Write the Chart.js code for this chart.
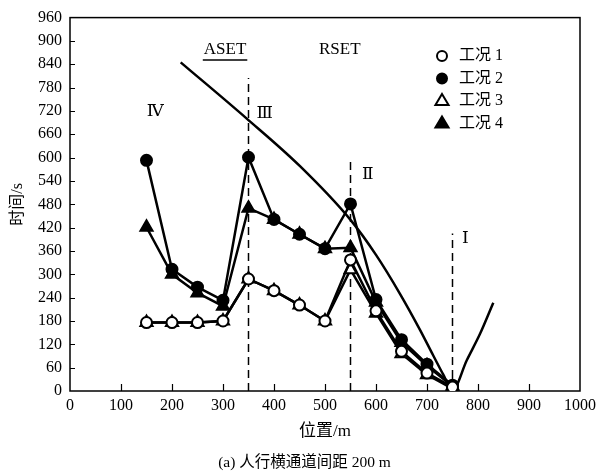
<!DOCTYPE html>
<html><head><meta charset="utf-8">
<script src="https://cdn.jsdelivr.net/npm/chart.js@4/dist/chart.umd.min.js"></script>
<style>html,body{margin:0;padding:0;background:#fff;}canvas{display:block;}</style>
</head><body>
<canvas id="c" width="609" height="476"></canvas>
<script>
// ---- data ----
const positions = [150, 200, 250, 300, 350, 400, 450, 500, 550, 600, 650, 700, 750];
const case1 = [176, 176, 176, 180, 288, 258, 221, 180, 337, 206, 102, 46, 10];
const case2 = [593, 313, 267, 233, 601, 441, 403, 366, 481, 235, 132, 69, 15];
const case3 = [176, 176, 176, 180, 288, 258, 221, 180, 312, 200, 96, 42, 6];
const case4 = [421, 300, 252, 218, 470, 441, 403, 366, 368, 228, 125, 65, 12];
const seriesLabels = ['工况 1', '工况 2', '工况 3', '工况 4'];

// RSET boundary curve
const rsetX = [217, 346, 451, 550, 600, 647, 686, 712, 732, 750, 778, 804, 830];
const rsetY = [845, 701, 578, 440, 350, 250, 158, 92, 42, 2, 79, 147, 227];

// dashed zone separators
const dashX = [350, 550, 750];
const dashTop = [805, 600, 405];

// text annotations (data coordinates)
const noteText = ['ASET', 'RSET', 'Ⅳ', 'Ⅲ', 'Ⅱ', 'Ⅰ'];
const noteX = [304, 529, 167, 382, 584, 775];
const noteY = [878, 878, 718, 713, 556, 391];

const xMin = 0, xMax = 1000, xStep = 100;
const yMin = 0, yMax = 960, yStep = 60;
const xTitle = '位置/m';
const yTitle = '时间/s';
const caption = '(a) 人行横通道间距 200 m';

const SERIF = "'Liberation Serif', 'Times New Roman', 'Noto Sans CJK SC', serif";
const ROMAN = "'Liberation Serif', 'DejaVu Serif', 'Noto Sans CJK SC', serif";

const pts = (xs, ys) => xs.map((x, i) => ({x: x, y: ys[i]}));

const caseStyles = [
  {pointStyle: 'circle', bg: '#fff', r: 5.5},
  {pointStyle: 'circle', bg: '#000', r: 5.5},
  {pointStyle: 'triangle', bg: '#fff', r: 7},
  {pointStyle: 'triangle', bg: '#000', r: 7}
];
const caseData = [case1, case2, case3, case4];

const datasets = [];
caseData.forEach((vals, i) => {
  const s = caseStyles[i];
  datasets.push({
    label: seriesLabels[i],
    data: pts(positions, vals),
    borderColor: '#000',
    borderWidth: 2.5,
    pointStyle: s.pointStyle,
    pointRadius: s.r,
    pointBackgroundColor: s.bg,
    pointBorderColor: '#000',
    pointBorderWidth: 2,
    tension: 0,
    order: [1, 3, 2, 4][i],
    isCase: true
  });
});
datasets.push({
  label: 'RSET',
  data: pts(rsetX, rsetY),
  borderColor: '#000',
  borderWidth: 2.5,
  pointRadius: 0,
  cubicInterpolationMode: 'monotone',
  order: 10
});
dashX.forEach((x, i) => {
  datasets.push({
    label: 'dash' + i,
    data: [{x: x, y: 0}, {x: x, y: dashTop[i]}],
    borderColor: '#000',
    borderWidth: 1.5,
    borderDash: [8, 5],
    pointRadius: 0,
    order: 11
  });
});

const decor = {
  id: 'decor',
  beforeDatasetsDraw(chart) {
    const {ctx, chartArea: a, scales: {x, y}} = chart;
    ctx.save();
    ctx.strokeStyle = '#000';
    ctx.lineWidth = 1.5;
    ctx.strokeRect(a.left, a.top, a.right - a.left, a.bottom - a.top);
    ctx.lineWidth = 1.2;
    ctx.beginPath();
    for (let v = yMin + yStep; v < yMax; v += yStep) {
      const py = Math.round(y.getPixelForValue(v)) + 0.5;
      ctx.moveTo(a.left, py); ctx.lineTo(a.left + 5, py);
    }
    for (let v = xMin + xStep; v < xMax; v += xStep) {
      const px = Math.round(x.getPixelForValue(v)) + 0.5;
      ctx.moveTo(px, a.bottom); ctx.lineTo(px, a.bottom - 7);
    }
    ctx.stroke();
    ctx.restore();
  },
  afterDraw(chart) {
    const {ctx, scales: {x, y}} = chart;
    ctx.save();
    ctx.fillStyle = '#000';
    ctx.strokeStyle = '#000';
    ctx.textAlign = 'center';
    ctx.textBaseline = 'middle';
    noteText.forEach((t, i) => {
      const px = x.getPixelForValue(noteX[i]);
      const py = y.getPixelForValue(noteY[i]);
      const roman = i >= 2;
      ctx.font = roman ? '17px ' + ROMAN : '17px ' + SERIF;
      ctx.fillText(t, px, py);
      if (t === 'ASET') {
        const w = ctx.measureText(t).width;
        ctx.lineWidth = 1.5;
        ctx.beginPath();
        ctx.moveTo(px - w / 2 - 1, py + 10.5);
        ctx.lineTo(px + w / 2 + 1, py + 10.5);
        ctx.stroke();
      }
    });
    // legend
    const lx = 442, ly0 = 56, dy = 22.5;
    chart.data.datasets.filter(d => d.isCase).forEach((d, i) => {
      const cy = ly0 + i * dy;
      ctx.fillStyle = d.pointBackgroundColor;
      ctx.strokeStyle = '#000';
      ctx.lineWidth = 2;
      ctx.beginPath();
      if (d.pointStyle === 'circle') {
        ctx.arc(lx, cy, d.pointRadius - 0.5, 0, Math.PI * 2);
      } else {
        const r = d.pointRadius;
        ctx.moveTo(lx, cy - r);
        ctx.lineTo(lx + r * 0.866 + 0.5, cy + r * 0.5 + 0.5);
        ctx.lineTo(lx - r * 0.866 - 0.5, cy + r * 0.5 + 0.5);
        ctx.closePath();
      }
      ctx.fill(); ctx.stroke();
      ctx.fillStyle = '#000';
      ctx.textAlign = 'left';
      ctx.font = '16px ' + SERIF;
      ctx.fillText(d.label, lx + 17, cy);
    });
    // caption
    ctx.textAlign = 'center';
    ctx.font = '15.5px ' + SERIF;
    ctx.fillText(caption, chart.width / 2, 463);
    ctx.restore();
  }
};

new Chart(document.getElementById('c'), {
  type: 'line',
  data: {datasets: datasets},
  options: {
    responsive: false,
    animation: false,
    devicePixelRatio: 1,
    layout: {padding: {left: 0, top: 13, right: 29, bottom: 0}},
    plugins: {legend: {display: false}, tooltip: {enabled: false}},
    scales: {
      x: {
        type: 'linear', min: xMin, max: xMax,
        grid: {display: false, drawTicks: false, tickLength: 0},
        border: {display: false},
        ticks: {stepSize: xStep, padding: 5, color: '#000', maxRotation: 0,
                callback: v => String(v),
                font: {family: SERIF, size: 16}},
        title: {display: true, text: xTitle, color: '#000',
                font: {family: SERIF, size: 17}, padding: {top: 0, bottom: 34}},
        afterFit(s) { s.height = 85; }
      },
      y: {
        type: 'linear', min: yMin, max: yMax,
        grid: {display: false, drawTicks: false, tickLength: 0},
        border: {display: false},
        ticks: {stepSize: yStep, padding: 8, color: '#000',
                callback: v => String(v),
                font: {family: SERIF, size: 16}},
        title: {display: true, text: yTitle, color: '#000',
                font: {family: SERIF, size: 16}, padding: {top: 8, bottom: 0}},
        afterFit(s) { s.width = 70; }
      }
    }
  },
  plugins: [decor]
});
</script>
</body></html>
